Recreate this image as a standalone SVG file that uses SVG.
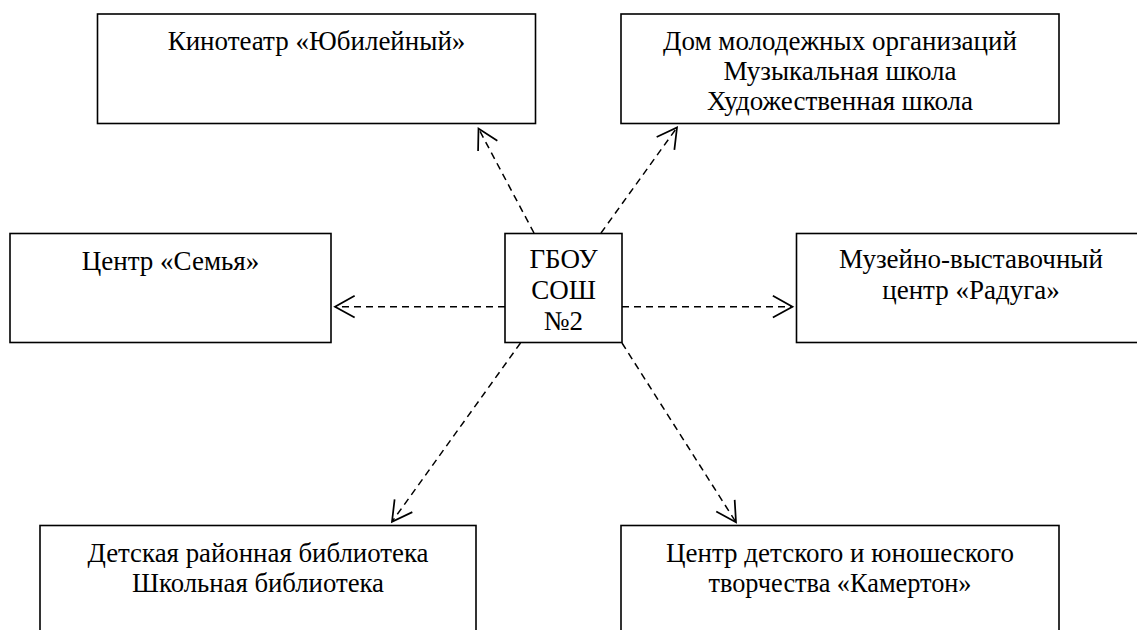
<svg xmlns="http://www.w3.org/2000/svg" width="1137" height="630" viewBox="0 0 1137 630">
<style>
.box{fill:#fff;stroke:#000;stroke-width:1.6}
.t{font-family:"Liberation Serif","Times New Roman",serif;font-size:27px;fill:#000;text-anchor:middle}
.c{fill:none;stroke:#000;stroke-width:1.5;stroke-dasharray:7 5}
</style>
<defs>
<marker id="ah" markerUnits="userSpaceOnUse" markerWidth="24" markerHeight="24" viewBox="0 0 20 22" refX="18" refY="11" orient="auto" overflow="visible">
<path d="M0,1 L18,11 L0,21" fill="none" stroke="#000" stroke-width="1.6"/>
</marker>
</defs>
<rect width="1137" height="630" fill="#fff"/>
<g id="connectors">
<line class="c" x1="534" y1="233" x2="478.5" y2="128.5" marker-end="url(#ah)"/>
<line class="c" x1="601" y1="233" x2="677" y2="127.5" marker-end="url(#ah)"/>
<line class="c" x1="505" y1="306.7" x2="335" y2="306.7" marker-end="url(#ah)"/>
<line class="c" x1="622" y1="306.7" x2="792.5" y2="306.7" marker-end="url(#ah)"/>
<line class="c" x1="520.5" y1="343" x2="392" y2="521.7" marker-end="url(#ah)"/>
<line class="c" x1="622" y1="343" x2="736" y2="522.3" marker-end="url(#ah)"/>
</g>
<g id="node-kino">
<rect class="box" x="97.5" y="14" width="438" height="109.5"/>
<text class="t" x="316.5" y="50">Кинотеатр «Юбилейный»</text>
</g>
<g id="node-dom">
<rect class="box" x="621" y="14" width="438" height="109.5"/>
<text class="t" x="840" y="50">Дом молодежных организаций</text>
<text class="t" x="840" y="80">Музыкальная школа</text>
<text class="t" x="840" y="110">Художественная школа</text>
</g>
<g id="node-semya">
<rect class="box" x="10" y="233.5" width="321" height="109"/>
<text class="t" x="170.5" y="270">Центр «Семья»</text>
</g>
<g id="node-school">
<rect class="box" x="505" y="233.5" width="117" height="109"/>
<text class="t" x="563.5" y="268">ГБОУ</text>
<text class="t" x="563.5" y="299">СОШ</text>
<text class="t" x="563.5" y="330">№2</text>
</g>
<g id="node-raduga">
<rect class="box" x="796.5" y="233.5" width="350" height="109"/>
<text class="t" x="971" y="268">Музейно-выставочный</text>
<text class="t" x="971" y="299">центр «Радуга»</text>
</g>
<g id="node-library">
<rect class="box" x="40" y="525.5" width="436" height="120"/>
<text class="t" x="258" y="562" textLength="341" lengthAdjust="spacingAndGlyphs">Детская районная библиотека</text>
<text class="t" x="258" y="592" textLength="252" lengthAdjust="spacingAndGlyphs">Школьная библиотека</text>
</g>
<g id="node-kamerton">
<rect class="box" x="621" y="525.5" width="438" height="120"/>
<text class="t" x="840" y="562" textLength="348" lengthAdjust="spacingAndGlyphs">Центр детского и юношеского</text>
<text class="t" x="840" y="592" textLength="263" lengthAdjust="spacingAndGlyphs">творчества «Камертон»</text>
</g>
</svg>
